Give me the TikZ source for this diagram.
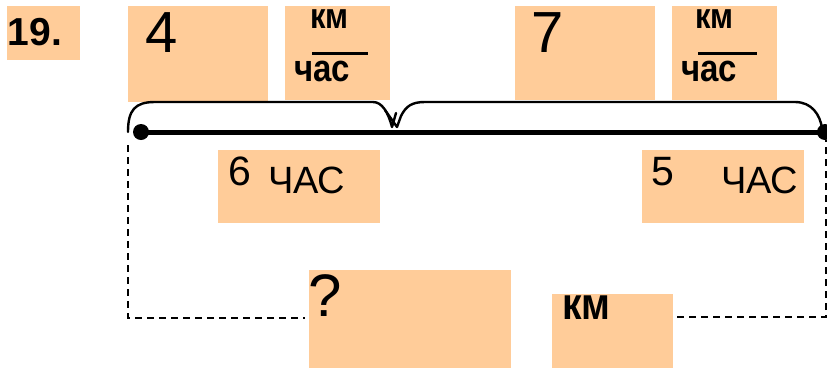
\documentclass[tikz,border=0pt]{standalone}
\usepackage{fontspec}
\setmainfont{Liberation Sans}
\definecolor{peach}{RGB}{255,204,153}
\newcommand\vst[2]{\scalebox{1}[#1]{#2}}
\tikzset{
  pbox/.style={fill=peach, draw=none},
  lbl/.style={anchor=base west, inner sep=0pt, outer sep=0pt},
  dashln/.style={dash pattern=on 7pt off 5pt, line width=1.6pt},
  bracel/.style={line width=2.4pt, line cap=round, line join=round},
  dotn/.style={circle, fill=black, inner sep=0pt, minimum size=16pt}
}
\begin{document}
\begin{tikzpicture}[x=1pt,y=-1pt]
\useasboundingbox (0,0) rectangle (827,368);
% boxes
\fill[pbox] (7,6) rectangle (80,60);
\fill[pbox] (128,6) rectangle (268,102);
\fill[pbox] (285,6) rectangle (390,100);
\fill[pbox] (515,6) rectangle (655,100);
\fill[pbox] (672,6) rectangle (777,100);
\fill[pbox] (218,150) rectangle (380,223);
\fill[pbox] (642,150) rectangle (804,223);
\fill[pbox] (309,270) rectangle (511,368);
\fill[pbox] (552,294) rectangle (673,368);
% texts
\node[lbl] (t19) at (8,45) {\fontsize{39}{41}\selectfont\bfseries 19.};
\node[lbl] (t4) at (145,52) {\fontsize{58}{60}\selectfont 4};
\node[lbl] (t7) at (531,52) {\fontsize{58}{60}\selectfont 7};
\node[lbl] (km1) at (310,28) {\vst{1.15}{\fontsize{31}{32}\selectfont\bfseries км}};
\node[lbl] (ch1) at (294,81) {\vst{1.15}{\fontsize{33}{35}\selectfont\bfseries час}};
\node[lbl] (km2) at (695,28) {\vst{1.15}{\fontsize{31}{32}\selectfont\bfseries км}};
\node[lbl] (ch2) at (681,81) {\vst{1.15}{\fontsize{33}{35}\selectfont\bfseries час}};
\coordinate (b1a) at (312,53); \coordinate (b1b) at (368,53);
\coordinate (b2a) at (698,53); \coordinate (b2b) at (757,53);
\draw[line width=3pt] (b1a) -- (b1b);
\draw[line width=3pt] (b2a) -- (b2b);
\node[lbl] (t6) at (228,185) {\fontsize{41}{43}\selectfont 6};
\node[lbl] (h6) at (268,193) {\fontsize{38}{40}\selectfont ЧАС};
\node[lbl] (t5) at (651,185) {\fontsize{41}{43}\selectfont 5};
\node[lbl] (h5) at (721,193) {\fontsize{38}{40}\selectfont ЧАС};
\node[lbl] (q) at (308,316) {\fontsize{60}{62}\selectfont ?};
\node[lbl] (km3) at (562,319) {\vst{1.15}{\fontsize{39}{41}\selectfont\bfseries км}};
% main line
\node[dotn] (A) at (141,132) {};
\node[dotn] (B) at (825,132) {};
\draw[line width=5pt] (A.center) -- (B.center);
% braces
\coordinate (L0) at (128,132);
\coordinate (M1) at (392,127);
\coordinate (M2) at (397,127);
\draw[bracel] (L0) .. controls (128,110) and (135,102) .. (155,102)
  -- (373,102) .. controls (382,102) and (388,112) .. (M1) -- (396,113);
\draw[bracel] (385,110) -- (M2) -- (401,116) .. controls (406,106) and (412,102) .. (425,102)
  -- (795,102) .. controls (812,102) and (820,115) .. (822,128);
% dashed connectors
\coordinate (DL) at (128,145);
\coordinate (DLc) at (128,318);
\coordinate (DR) at (826,140);
\coordinate (DRc) at (826,317);
\draw[dashln] (DL) -- (DLc) -- (305,318);
\draw[dashln] (677,317) -- (DRc) -- (DR);
\end{tikzpicture}
\end{document}
